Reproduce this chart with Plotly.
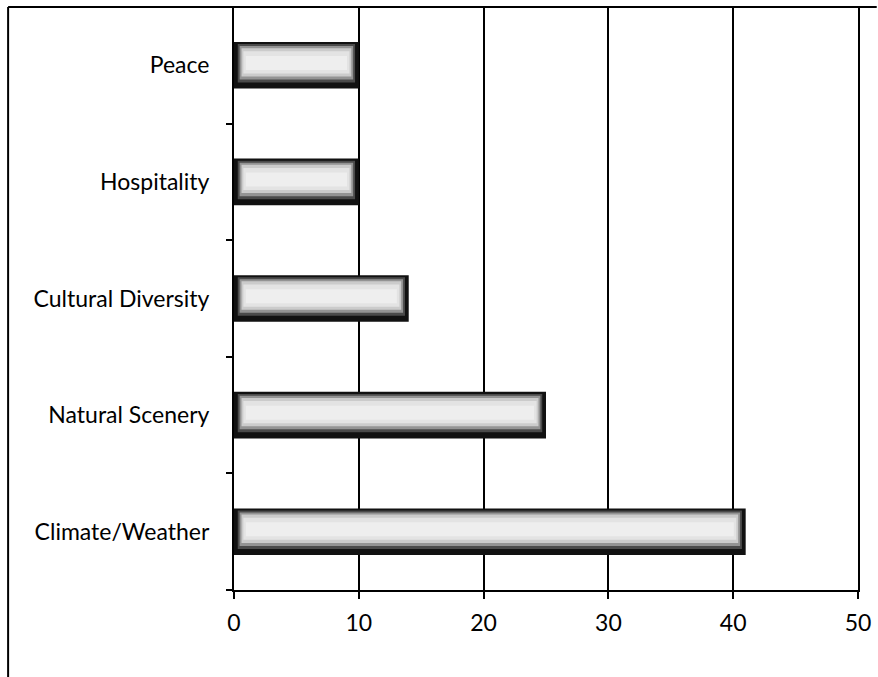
import plotly.graph_objects as go

categories = ["Climate/Weather", "Natural Scenery", "Cultural Diversity", "Hospitality", "Peace"]
values = [41, 25, 14, 10, 10]
x_ticks = [0, 10, 20, 30, 40, 50]

FONT = "Lato, 'Open Sans', sans-serif"

fig = go.Figure()

# layered bars to imitate the shaded "pipe" look: (colour, offset, width, left inset, right inset)
layers = [
    ("#111111", -0.200, 0.400, 0.00, 0.00),
    ("#4a4a4a", -0.148, 0.330, 0.30, 0.30),
    ("#939393", -0.122, 0.287, 0.45, 0.45),
    ("#cbcbcb", -0.096, 0.243, 0.60, 0.60),
    ("#e3e3e3", -0.070, 0.190, 0.75, 0.75),
    ("#eeeeee", -0.040, 0.120, 0.95, 0.95),
]
for col, off, w, li, ri in layers:
    fig.add_trace(go.Bar(
        y=categories,
        x=[v - li - ri for v in values],
        base=[li] * len(values),
        orientation="h",
        width=w,
        offset=off,
        marker=dict(color=col, line=dict(width=0)),
        hoverinfo="skip",
        showlegend=False,
    ))

fig.update_layout(
    width=878, height=677,
    margin=dict(l=234, r=17, t=7, b=87),
    paper_bgcolor="white", plot_bgcolor="white",
    barmode="overlay",
    font=dict(family=FONT, size=23, color="black"),
    xaxis=dict(
        range=[0, 50], tickvals=x_ticks, ticktext=[str(t) for t in x_ticks],
        showgrid=True, gridcolor="black", gridwidth=2,
        showline=True, linecolor="black", linewidth=2,
        ticks="outside", ticklen=7, tickwidth=2, tickcolor="black",
        ticklabelstandoff=4,
        zeroline=False, fixedrange=True,
    ),
    yaxis=dict(
        categoryorder="array", categoryarray=categories,
        showgrid=False, showline=True, linecolor="black", linewidth=2, mirror=True,
        ticks="outside", tickson="boundaries", ticklen=6, tickwidth=2, tickcolor="black",
        ticklabelstandoff=18, fixedrange=True,
    ),
    shapes=[
        dict(type="line", xref="paper", yref="paper", x0=-0.362, x1=1.03, y0=1, y1=1,
             line=dict(color="black", width=2)),
        dict(type="line", xref="paper", yref="paper", x0=-0.362, x1=-0.362, y0=1, y1=-0.16,
             line=dict(color="black", width=2)),
    ],
)

fig.write_html("out.html", config={"displayModeBar": False},
               post_script="document.body.style.margin='0';")
